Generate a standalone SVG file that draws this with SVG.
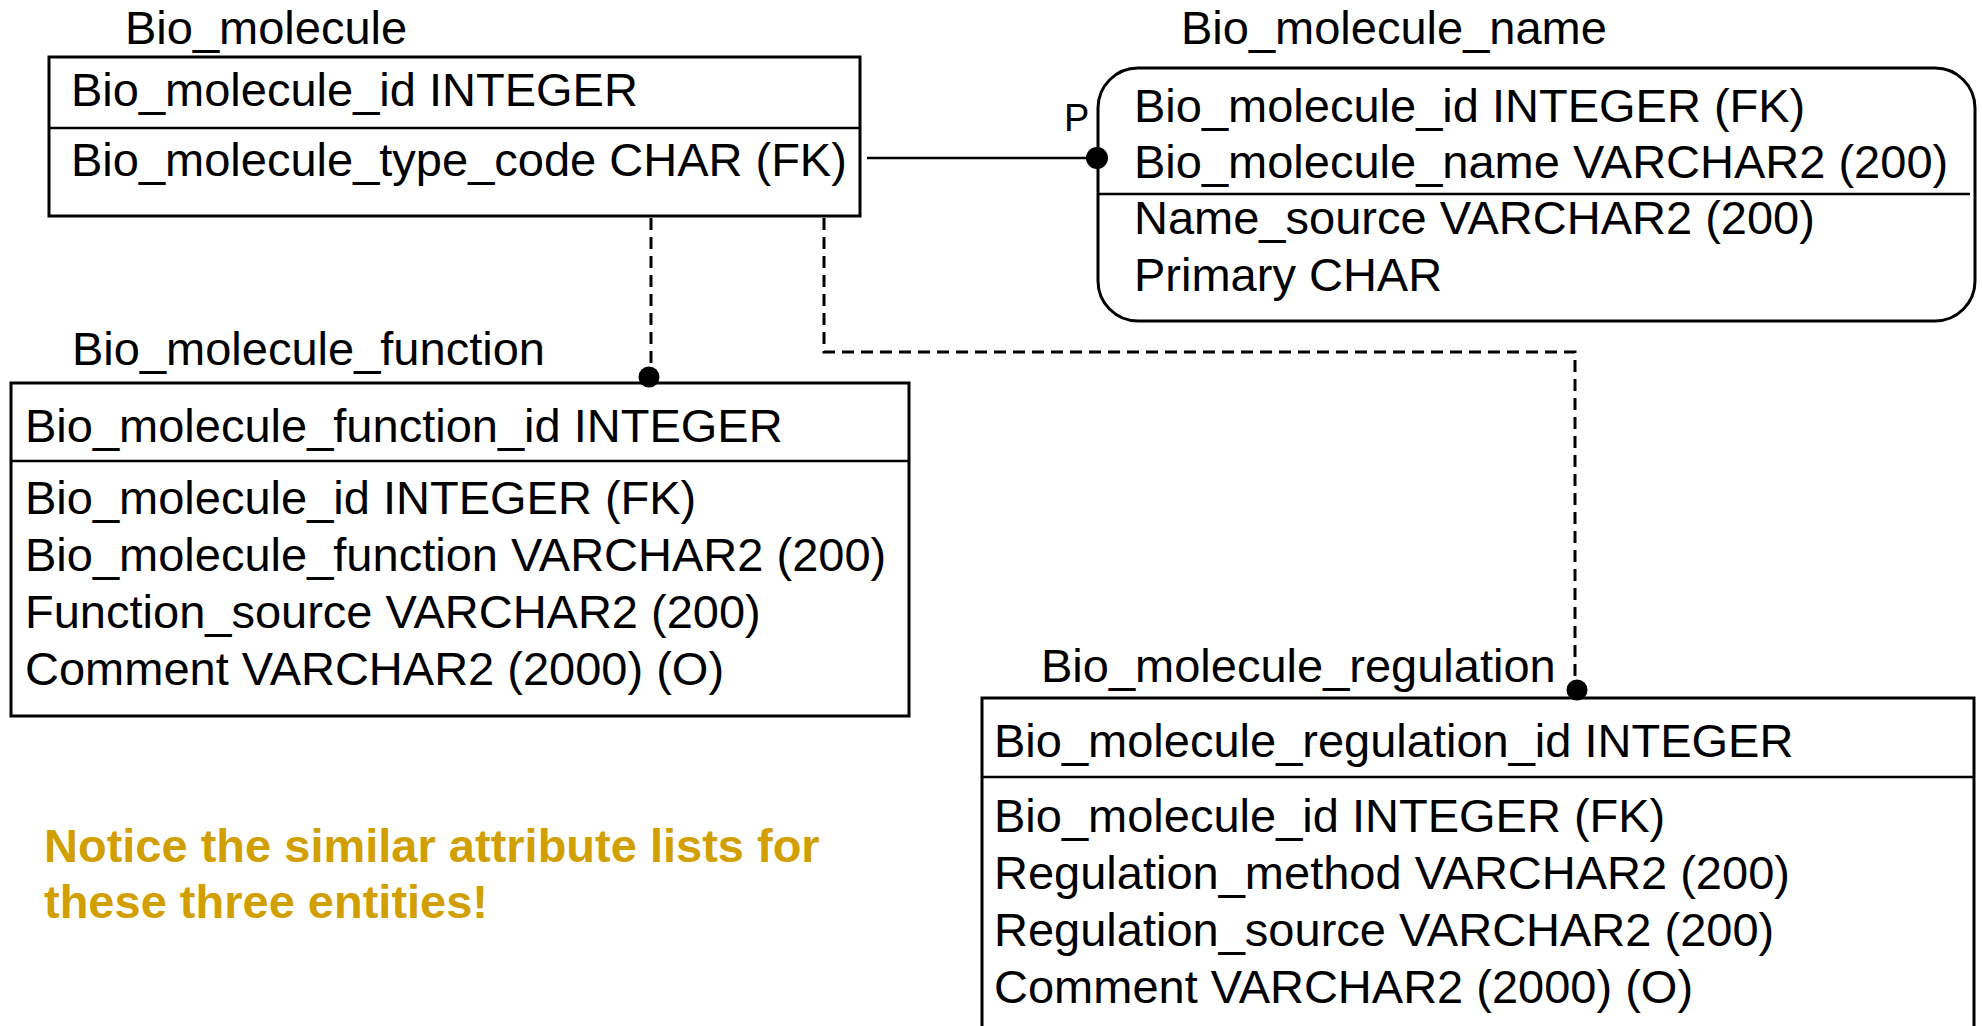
<svg xmlns="http://www.w3.org/2000/svg" width="1982" height="1026" viewBox="0 0 1982 1026">
<style>
.box{fill:#fff;stroke:#000;stroke-width:3}
.div{stroke:#000;stroke-width:2.5;fill:none}
.t{font-family:"Liberation Sans",Arial,sans-serif;font-size:47px;fill:#000}
.p{font-family:"Liberation Sans",Arial,sans-serif;font-size:38px;fill:#000}
.note{font-family:"Liberation Sans",Arial,sans-serif;font-size:47px;font-weight:bold;fill:#D19F00}
.solid{stroke:#000;stroke-width:2.5;fill:none}
.dash{stroke:#000;stroke-width:3;fill:none;stroke-dasharray:12 7}
.dot{fill:#000}
</style>
<rect width="1982" height="1026" fill="#fff"/>
<g id="bio_molecule">
<text class="t" x="125" y="44">Bio_molecule</text>
<rect class="box" x="49" y="57" width="811" height="159"/>
<line class="div" x1="48" y1="128" x2="860" y2="128"/>
<text class="t" x="71" y="106">Bio_molecule_id INTEGER</text>
<text class="t" x="71" y="176">Bio_molecule_type_code CHAR (FK)</text>
</g>
<g id="bio_molecule_name">
<text class="t" x="1181" y="44">Bio_molecule_name</text>
<rect class="box" x="1098" y="68" width="877" height="253" rx="40" ry="40"/>
<line class="div" x1="1098" y1="194" x2="1970" y2="194"/>
<text class="t" x="1134" y="122">Bio_molecule_id INTEGER (FK)</text>
<text class="t" x="1134" y="178">Bio_molecule_name VARCHAR2 (200)</text>
<text class="t" x="1134" y="234">Name_source VARCHAR2 (200)</text>
<text class="t" x="1134" y="291">Primary CHAR</text>
</g>
<g id="bio_molecule_function">
<text class="t" x="72" y="365">Bio_molecule_function</text>
<rect class="box" x="11" y="383" width="898" height="333"/>
<line class="div" x1="11" y1="461" x2="909" y2="461"/>
<text class="t" x="25" y="442">Bio_molecule_function_id INTEGER</text>
<text class="t" x="25" y="514">Bio_molecule_id INTEGER (FK)</text>
<text class="t" x="25" y="571">Bio_molecule_function VARCHAR2 (200)</text>
<text class="t" x="25" y="628">Function_source VARCHAR2 (200)</text>
<text class="t" x="25" y="685">Comment VARCHAR2 (2000) (O)</text>
</g>
<g id="bio_molecule_regulation">
<text class="t" x="1041" y="682">Bio_molecule_regulation</text>
<rect class="box" x="982" y="698" width="992" height="360"/>
<line class="div" x1="982" y1="777" x2="1974" y2="777"/>
<text class="t" x="994" y="757">Bio_molecule_regulation_id INTEGER</text>
<text class="t" x="994" y="832">Bio_molecule_id INTEGER (FK)</text>
<text class="t" x="994" y="889">Regulation_method VARCHAR2 (200)</text>
<text class="t" x="994" y="946">Regulation_source VARCHAR2 (200)</text>
<text class="t" x="994" y="1003">Comment VARCHAR2 (2000) (O)</text>
</g>
<g id="note">
<text class="note" x="44" y="862">Notice the similar attribute lists for</text>
<text class="note" x="44" y="918">these three entities!</text>
</g>
<g id="connectors">
<line class="solid" x1="867" y1="158" x2="1095" y2="158"/>
<circle class="dot" cx="1097" cy="158" r="11"/>
<text class="p" x="1064" y="131">P</text>
<line class="dash" x1="651" y1="218" x2="651" y2="370"/>
<circle class="dot" cx="649" cy="377" r="10.5"/>
<path class="dash" d="M824 218 V352 H1575 V682"/>
<circle class="dot" cx="1577" cy="690" r="10.5"/>
</g>
</svg>
